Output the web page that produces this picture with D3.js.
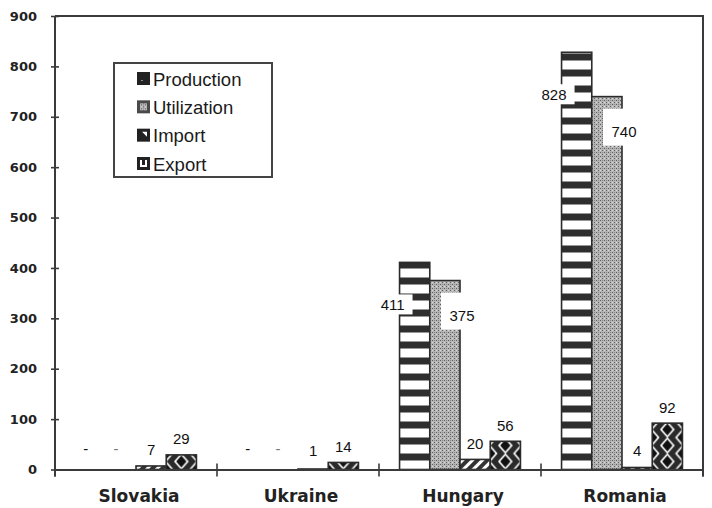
<!DOCTYPE html>
<html>
<head>
<meta charset="utf-8">
<script src="https://cdn.jsdelivr.net/npm/d3@7"></script>
<style>
  html, body { margin: 0; padding: 0; background: #fff; }
  svg { display: block; }
</style>
</head>
<body>
<svg id="chart" width="712" height="508"></svg>
<script>
// Countries and series
const categories = ["Slovakia", "Ukraine", "Hungary", "Romania"];
const seriesNames = ["Production", "Utilization", "Import", "Export"];
// Values (null = no data, drawn as "-")
const production  = [null, null, 411, 828];
const utilization = [null, null, 375, 740];
const imports     = [7, 1, 20, 4];
const exportsArr  = [29, 14, 56, 92];
const yTicks = [0, 100, 200, 300, 400, 500, 600, 700, 800, 900];

const seriesValues = [production, utilization, imports, exportsArr];

const svg = d3.select("#chart");
const ink = "#2b2b2b";
const plotLeft = 55, plotRight = 703, plotTop = 16, plotBase = 469.5;

const x0 = d3.scaleBand().domain(categories).range([plotLeft, plotRight]).paddingInner(0).paddingOuter(0);
const x1 = d3.scaleBand().domain(seriesNames).range([0, x0.bandwidth()]).paddingInner(0).paddingOuter(0.68);
const y = d3.scaleLinear().domain([0, 900]).range([plotBase, plotTop]);
const bw = x1.bandwidth();

const defs = svg.append("defs");

// Production: horizontal stripes
const pStripe = defs.append("pattern").attr("id", "pat-prod")
  .attr("patternUnits", "userSpaceOnUse").attr("width", 8).attr("height", 16)
  .attr("y", plotBase);
pStripe.append("rect").attr("width", 8).attr("height", 16).attr("fill", "#fff");
pStripe.append("rect").attr("width", 8).attr("height", 7).attr("fill", "#2e2e2e");

// Utilization: grey stipple
const uStip = defs.append("pattern").attr("id", "pat-util")
  .attr("patternUnits", "userSpaceOnUse").attr("width", 4).attr("height", 4);
uStip.append("rect").attr("width", 4).attr("height", 4).attr("fill", "#b6b6b6");
uStip.append("rect").attr("x", 0).attr("y", 0).attr("width", 1).attr("height", 1).attr("fill", "#5e5e5e");
uStip.append("rect").attr("x", 2).attr("y", 2).attr("width", 1).attr("height", 1).attr("fill", "#5e5e5e");
uStip.append("rect").attr("x", 2).attr("y", 0).attr("width", 1).attr("height", 1).attr("fill", "#8a8a8a");
uStip.append("rect").attr("x", 0).attr("y", 2).attr("width", 1).attr("height", 1).attr("fill", "#d8d8d8");

// Import: diagonal stripes
const iDiag = defs.append("pattern").attr("id", "pat-imp")
  .attr("patternUnits", "userSpaceOnUse").attr("width", 7).attr("height", 7)
  .attr("patternTransform", "rotate(45)");
iDiag.append("rect").attr("width", 7).attr("height", 7).attr("fill", "#333");
iDiag.append("rect").attr("width", 3).attr("height", 7).attr("fill", "#fff");

// Export: diamond lattice, one tile set per bar so it sits centred in the bar
function diamond(cx, cy, rx, ry) {
  return `M${cx},${cy - ry}L${cx + rx},${cy}L${cx},${cy + ry}L${cx - rx},${cy}Z`;
}
categories.forEach((c, i) => {
  const bx = x0(c) + x1("Export");
  const th = 16;
  const pat = defs.append("pattern").attr("id", "pat-exp-" + i)
    .attr("patternUnits", "userSpaceOnUse")
    .attr("x", bx).attr("y", plotBase)
    .attr("width", bw).attr("height", th);
  pat.append("rect").attr("width", bw).attr("height", th).attr("fill", "#2a2a2a");
  const centres = [[bw / 2, th / 2], [0, 0], [bw, 0], [0, th], [bw, th]];
  centres.forEach(([cx, cy]) => {
    pat.append("path").attr("d", diamond(cx, cy, 7.4, 8.4)).attr("fill", "#fff");
    pat.append("path").attr("d", diamond(cx, cy, 5.2, 6.0)).attr("fill", "#111");
  });
});

const fills = ["url(#pat-prod)", "url(#pat-util)", "url(#pat-imp)", null];

// Bars
seriesNames.forEach((s, si) => {
  categories.forEach((c, ci) => {
    const v = seriesValues[si][ci];
    if (v == null) return;
    const bx = x0(c) + x1(s);
    svg.append("rect")
      .attr("x", bx).attr("y", y(v))
      .attr("width", bw).attr("height", Math.max(0, y(0) - y(v)))
      .attr("fill", si === 3 ? `url(#pat-exp-${ci})` : fills[si])
      .attr("stroke", ink).attr("stroke-width", 1.6);
  });
});

// Frame (top and right edges of the plot)
svg.append("path")
  .attr("d", `M${plotLeft},${plotTop}H${plotRight}V${plotBase + 7}`)
  .attr("fill", "none").attr("stroke", "#3a3a3a").attr("stroke-width", 2);

// Y axis
const yAxis = d3.axisLeft(y).tickValues(yTicks).tickSizeInner(4).tickSizeOuter(0).tickPadding(14);
const gy = svg.append("g").attr("transform", `translate(${plotLeft},0)`).call(yAxis);
gy.select(".domain").remove();
gy.selectAll(".tick line").attr("x1", 4).attr("stroke", "#3a3a3a").attr("stroke-width", 1.6);
gy.selectAll(".tick text")
  .attr("font-family", "DejaVu Sans").attr("font-weight", "bold")
  .attr("font-size", 13).attr("fill", "#222");
svg.append("line").attr("x1", plotLeft).attr("x2", plotLeft).attr("y1", plotTop).attr("y2", plotBase + 7)
  .attr("stroke", "#3a3a3a").attr("stroke-width", 2);

// X axis: category labels, with ticks at the group boundaries
const xAxis = d3.axisBottom(x0).tickSize(0).tickPadding(20);
const gx = svg.append("g").attr("transform", `translate(0,${plotBase})`).call(xAxis);
gx.select(".domain").attr("stroke", "#3a3a3a").attr("stroke-width", 2);
gx.selectAll(".tick text")
  .attr("font-family", "DejaVu Sans").attr("font-weight", "bold")
  .attr("font-size", 17).attr("fill", "#222").attr("dx", 3);
const bounds = categories.map(c => x0(c)).concat([x0(categories[categories.length - 1]) + x0.bandwidth()]);
svg.selectAll("line.xtick").data(bounds).enter().append("line")
  .attr("class", "xtick")
  .attr("x1", d => d).attr("x2", d => d)
  .attr("y1", plotBase - 6).attr("y2", plotBase + 7)
  .attr("stroke", "#3a3a3a").attr("stroke-width", 1.6);

// Value labels
const labelFont = "Liberation Sans, Arial, sans-serif";
function label(x, yy, txt, anchor, fill) {
  svg.append("text").attr("x", x).attr("y", yy)
    .attr("text-anchor", anchor).attr("dominant-baseline", "central")
    .attr("font-family", labelFont).attr("font-size", 15)
    .attr("fill", fill || "#111").text(txt);
}

seriesNames.forEach((s, si) => {
  categories.forEach((c, ci) => {
    const v = seriesValues[si][ci];
    const bx = x0(c) + x1(s);
    const cx = bx + bw / 2;
    if (v == null) {
      label(cx - 5, y(0) - 21, "-", "middle", si === 0 ? "#111" : "#777");
      return;
    }
    if (v > 100 && si === 0) {
      // label tucked into the left side of the bar
      const ly = y(v) + 42;
      svg.append("rect").attr("x", bx - 23).attr("y", ly - 10)
        .attr("width", 36).attr("height", 20).attr("fill", "#fff");
      label(bx + 5, ly, String(v), "end");
    } else if (v > 100 && si === 1) {
      // label tucked into the right side of the bar
      const ly = y(v) + 35;
      svg.append("rect").attr("x", bx + bw - 19).attr("y", ly - 23)
        .attr("width", 40).attr("height", 37).attr("fill", "#fff");
      label(bx + bw + 2, ly, String(v), "middle");
    } else {
      const ly = Math.min(y(v), y(0) - 3) - 16;
      label(cx, ly, String(v), "middle");
    }
  });
});

// Legend
const lg = svg.append("g");
lg.append("rect").attr("x", 114).attr("y", 63).attr("width", 158).attr("height", 114)
  .attr("fill", "#fff").attr("stroke", "#444").attr("stroke-width", 2);
const rowY = d3.scalePoint().domain(seriesNames).range([79, 164]);
seriesNames.forEach((s, si) => {
  const ry = rowY(s);
  const g = lg.append("g").attr("transform", `translate(137,${ry - 7})`);
  g.append("rect").attr("width", 13).attr("height", 13).attr("fill", si === 1 ? "#4a4a4a" : "#222");
  if (si === 0) {
    g.append("rect").attr("x", 4).attr("y", 8).attr("width", 2).attr("height", 1).attr("fill", "#888");
  } else if (si === 1) {
    g.append("rect").attr("x", 3).attr("y", 3).attr("width", 7).attr("height", 7).attr("fill", "url(#pat-util)");
  } else if (si === 2) {
    g.append("path").attr("d", "M5,3H10V8Z").attr("fill", "#fff");
  } else {
    g.append("path").attr("d", "M3,3H5V8H8V3H10V10H3Z").attr("fill", "#fff");
  }
  lg.append("text").attr("x", 153).attr("y", ry)
    .attr("dominant-baseline", "central")
    .attr("font-family", labelFont).attr("font-size", 18.5).attr("fill", "#1a1a1a")
    .text(s);
});
</script>
</body>
</html>
